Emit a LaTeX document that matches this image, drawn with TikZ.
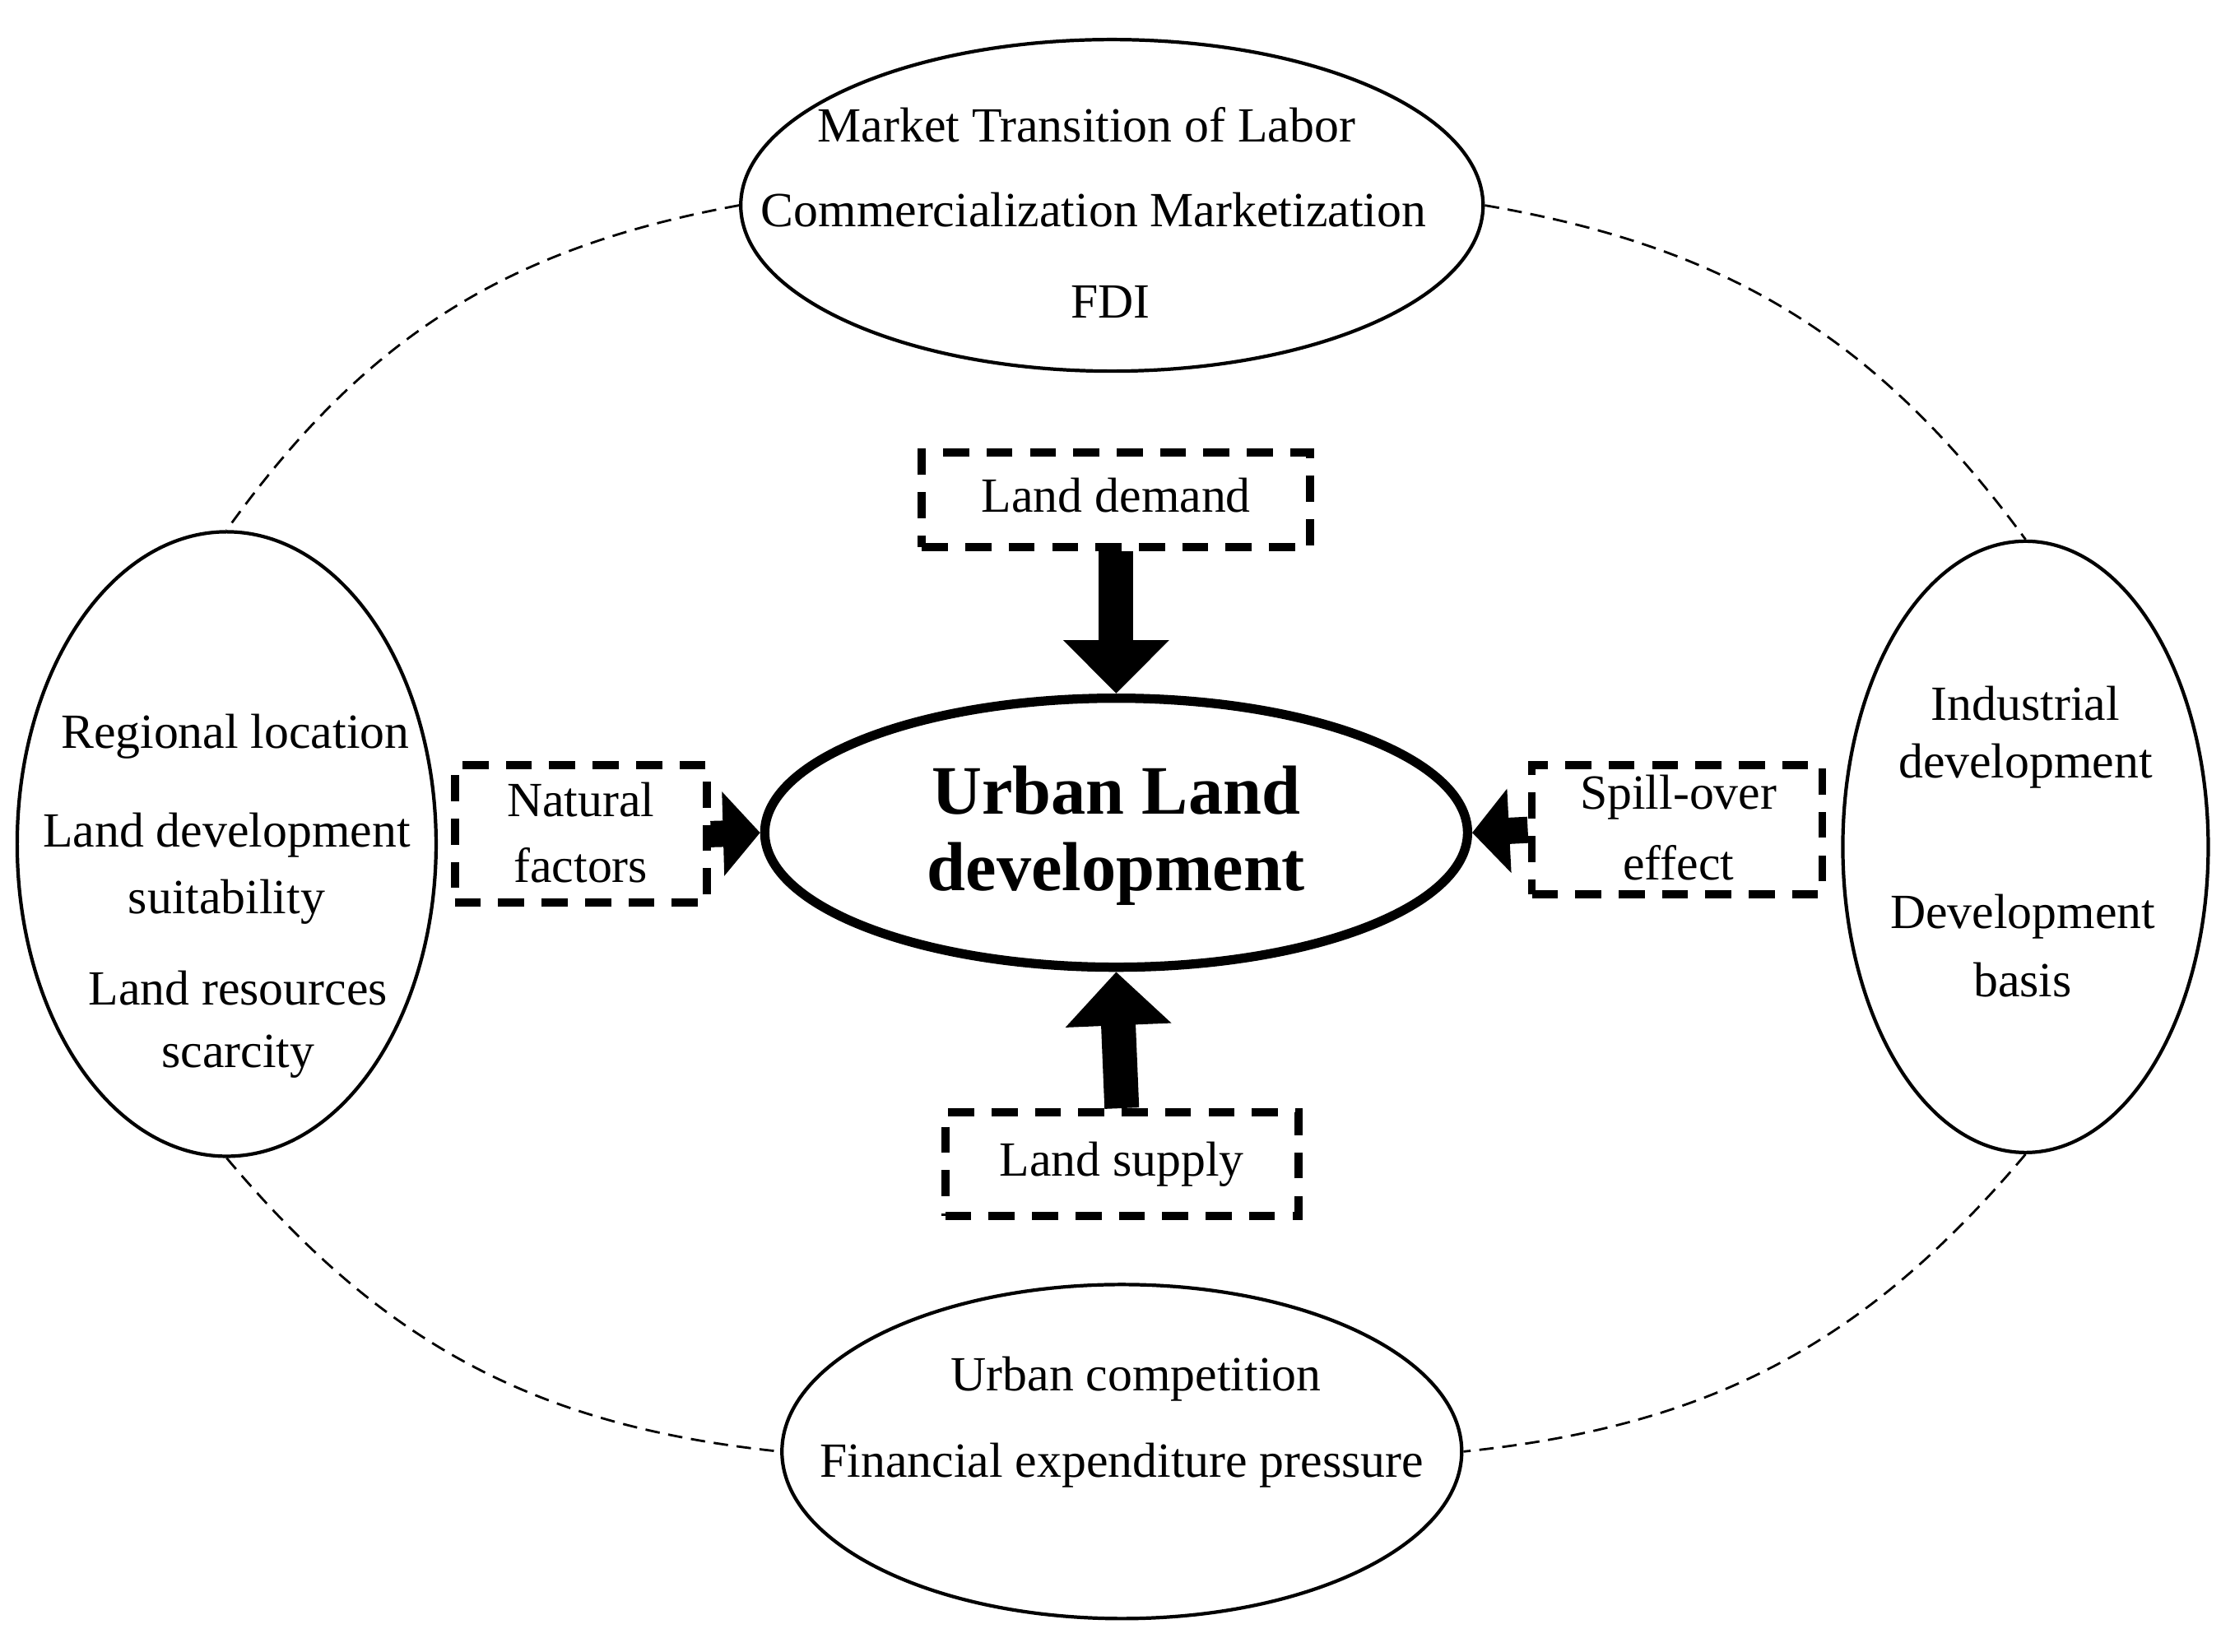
\documentclass[tikz,border=0pt]{standalone}
\usepackage{fontspec}
\setmainfont{Liberation Serif}
\usetikzlibrary{arrows.meta,shapes.geometric}
\begin{document}
\begin{tikzpicture}[x=0.01721cm,y=-0.01721cm,
  el/.style={draw,ellipse,line width=1.2pt,inner sep=0pt},
  box/.style={draw,line width=2.8pt,dash pattern=on 9pt off 6pt,inner sep=0pt},
  txt/.style={font=\fontsize{17}{20}\selectfont,inner sep=0pt},
  big/.style={-{Triangle[width=1.25cm,length=0.65cm]},line width=0.42cm},
  side/.style={-{Triangle[width=1.0cm,length=0.45cm]},line width=0.32cm},
  conn/.style={line width=0.8pt,dash pattern=on 5pt off 3pt}]
\useasboundingbox (0,0) rectangle (1568,1166);
\node[el,minimum width=9.02cm,minimum height=4.03cm] (top) at (785,145) {};
\node[el,minimum width=5.09cm,minimum height=7.59cm] (left) at (160,596) {};
\node[el,minimum width=4.44cm,minimum height=7.43cm] (right) at (1430,598) {};
\node[el,minimum width=8.26cm,minimum height=4.06cm] (bot) at (792,1025) {};
\node[draw,ellipse,line width=3.2pt,minimum width=8.54cm,minimum height=3.27cm] (ctr) at (788,588) {};
\node[box,minimum width=4.72cm,minimum height=1.15cm] (dem) at (788,353) {};
\node[box,minimum width=3.06cm,minimum height=1.67cm] (nat) at (410,589) {};
\node[box,minimum width=3.53cm,minimum height=1.57cm] (spl) at (1184,586) {};
\node[box,minimum width=4.29cm,minimum height=1.26cm] (sup) at (792,822) {};
\draw[big] (dem.south) -- (ctr.north);
\draw[big] (sup.north) -- (ctr.south);
\draw[side] (nat.east) -- (ctr.west);
\draw[side] (spl.west) -- (ctr.east);
\draw[conn] (top.west) to[bend right=22] (left.north);
\draw[conn] (top.east) to[bend left=22] (right.north);
\draw[conn] (left.south) to[bend right=22] (bot.west);
\draw[conn] (right.south) to[bend left=22] (bot.east);
\node[txt] (t1) at (767,88) {Market Transition of Labor};
\node[txt] (t2) at (772,148) {Commercialization Marketization};
\node[txt] (t3) at (784,213) {FDI};
\node[txt] (l1) at (166,520) {Regional location};
\node[txt] (l2) at (160,590) {Land development};
\node[txt] (l3) at (160,637) {suitability};
\node[txt] (l4) at (168,698) {Land resources};
\node[txt] (l5) at (168,746) {scarcity};
\node[txt] (r1) at (1430,497) {Industrial};
\node[txt] (r2) at (1430,541) {development};
\node[txt] (r3) at (1428,647) {Development};
\node[txt] (r4) at (1428,692) {basis};
\node[txt] (b1) at (802,974) {Urban competition};
\node[txt] (b2) at (792,1035) {Financial expenditure pressure};
\node[txt] (d1) at (788,350) {Land demand};
\node[txt] (n1) at (410,565) {Natural};
\node[txt] (n2) at (410,611) {factors};
\node[txt] (s1) at (1185,563) {Spill-over};
\node[txt] (s2) at (1185,609) {effect};
\node[txt] (u1) at (792,822) {Land supply};
\node[inner sep=0pt,font=\fontsize{24}{28}\selectfont\bfseries] (c1) at (788,558) {Urban Land};
\node[inner sep=0pt,font=\fontsize{24}{28}\selectfont\bfseries] (c2) at (788,617) {development};
\end{tikzpicture}
\end{document}
